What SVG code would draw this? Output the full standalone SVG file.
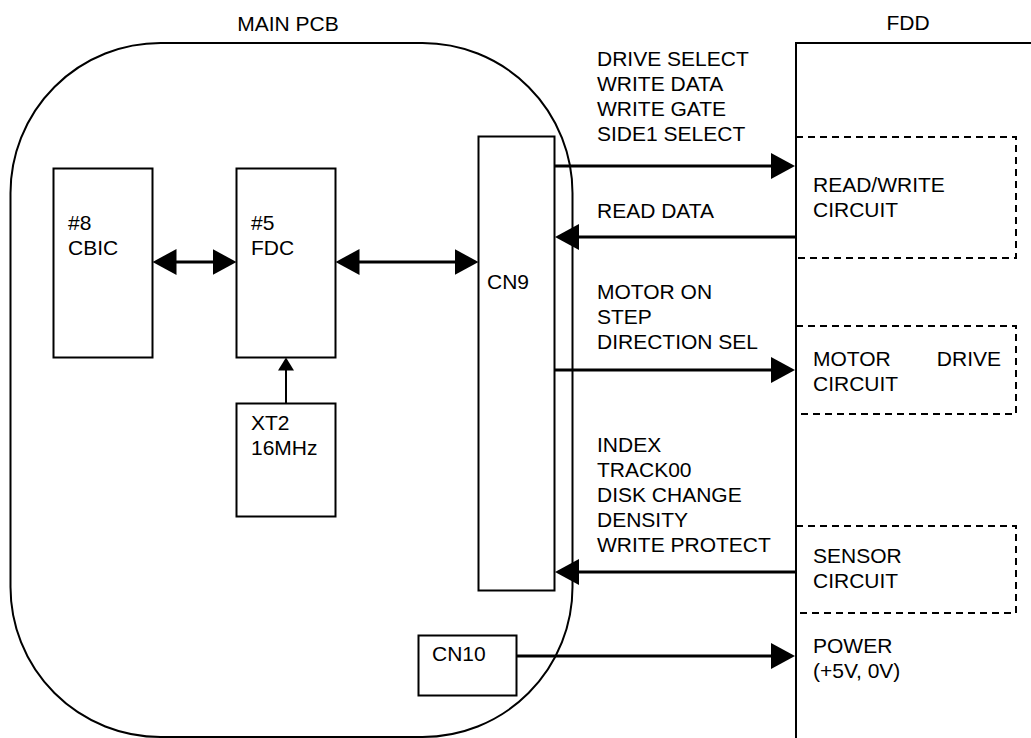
<svg xmlns="http://www.w3.org/2000/svg" width="1031" height="738" viewBox="0 0 1031 738">
<style>
text{font-family:"Liberation Sans",Arial,sans-serif;font-size:21px;fill:#000}
.box{fill:none;stroke:#000;stroke-width:2}
.dash{fill:none;stroke:#000;stroke-width:2;stroke-dasharray:7,5}
.arr{stroke:#000;stroke-width:3;fill:none}
.thin{stroke:#000;stroke-width:2;fill:none}
</style>
<defs>
<marker id="ah" markerUnits="userSpaceOnUse" markerWidth="24" markerHeight="26" refX="12" refY="13" orient="auto-start-reverse" viewBox="0 0 24 26">
<path d="M0,0 L24,13 L0,26 z" fill="#000"/>
</marker>
<marker id="ahs" markerUnits="userSpaceOnUse" markerWidth="13" markerHeight="16" refX="6" refY="8" orient="auto" viewBox="0 0 13 16">
<path d="M0,0 L13,8 L0,16 z" fill="#000"/>
</marker>
</defs>
<g id="main-pcb">
<rect class="box" x="10.5" y="43" width="562" height="694" rx="150" ry="150"/>
<text x="288" y="31" text-anchor="middle">MAIN PCB</text>
</g>
<g id="fdd">
<path class="box" d="M796,738 V43 H1031"/>
<text x="908" y="30" text-anchor="middle">FDD</text>
</g>
<g id="cbic">
<rect class="box" x="53.5" y="168.5" width="99" height="189"/>
<text x="68" y="230">#8</text>
<text x="68" y="255">CBIC</text>
</g>
<g id="fdc">
<rect class="box" x="236.5" y="168.5" width="99" height="189"/>
<text x="251" y="230">#5</text>
<text x="251" y="255">FDC</text>
</g>
<g id="xt2">
<rect class="box" x="236.5" y="403.5" width="99" height="113"/>
<text x="251" y="430">XT2</text>
<text x="251" y="455">16MHz</text>
</g>
<g id="cn9">
<rect class="box" x="478.5" y="136.5" width="76" height="454"/>
<text x="487" y="289">CN9</text>
</g>
<g id="cn10">
<rect class="box" x="418.5" y="635.5" width="98" height="60"/>
<text x="432" y="661">CN10</text>
</g>
<g id="rw-circuit">
<path class="dash" d="M796,137 H1016 V258 H796"/>
<text x="813" y="192">READ/WRITE</text>
<text x="813" y="217">CIRCUIT</text>
</g>
<g id="motor-circuit">
<path class="dash" d="M796,326 H1016 V414 H796"/>
<text x="813" y="366">MOTOR</text>
<text x="1001" y="366" text-anchor="end">DRIVE</text>
<text x="813" y="391">CIRCUIT</text>
</g>
<g id="sensor-circuit">
<path class="dash" d="M796,526 H1016 V613 H796"/>
<text x="813" y="563">SENSOR</text>
<text x="813" y="588">CIRCUIT</text>
</g>
<g id="power">
<text x="813" y="653">POWER</text>
<text x="813" y="678">(+5V, 0V)</text>
</g>
<g id="connectors">
<line class="arr" x1="164.5" y1="262" x2="224.5" y2="262" marker-start="url(#ah)" marker-end="url(#ah)"/>
<line class="arr" x1="347.5" y1="262" x2="466.5" y2="262" marker-start="url(#ah)" marker-end="url(#ah)"/>
<line class="thin" x1="286" y1="403" x2="286" y2="364.5" marker-end="url(#ahs)"/>
<line class="arr" x1="555" y1="166" x2="783" y2="166" marker-end="url(#ah)"/>
<line class="arr" x1="796" y1="237" x2="567" y2="237" marker-end="url(#ah)"/>
<line class="arr" x1="555" y1="370" x2="783" y2="370" marker-end="url(#ah)"/>
<line class="arr" x1="796" y1="572" x2="567" y2="572" marker-end="url(#ah)"/>
<line class="arr" x1="517" y1="656" x2="783" y2="656" marker-end="url(#ah)"/>
<text x="597" y="66">DRIVE SELECT</text>
<text x="597" y="91">WRITE DATA</text>
<text x="597" y="116">WRITE GATE</text>
<text x="597" y="141">SIDE1 SELECT</text>
<text x="597" y="218">READ DATA</text>
<text x="597" y="299">MOTOR ON</text>
<text x="597" y="324">STEP</text>
<text x="597" y="349">DIRECTION SEL</text>
<text x="597" y="452">INDEX</text>
<text x="597" y="477">TRACK00</text>
<text x="597" y="502">DISK CHANGE</text>
<text x="597" y="527">DENSITY</text>
<text x="597" y="552">WRITE PROTECT</text>
</g>
</svg>
